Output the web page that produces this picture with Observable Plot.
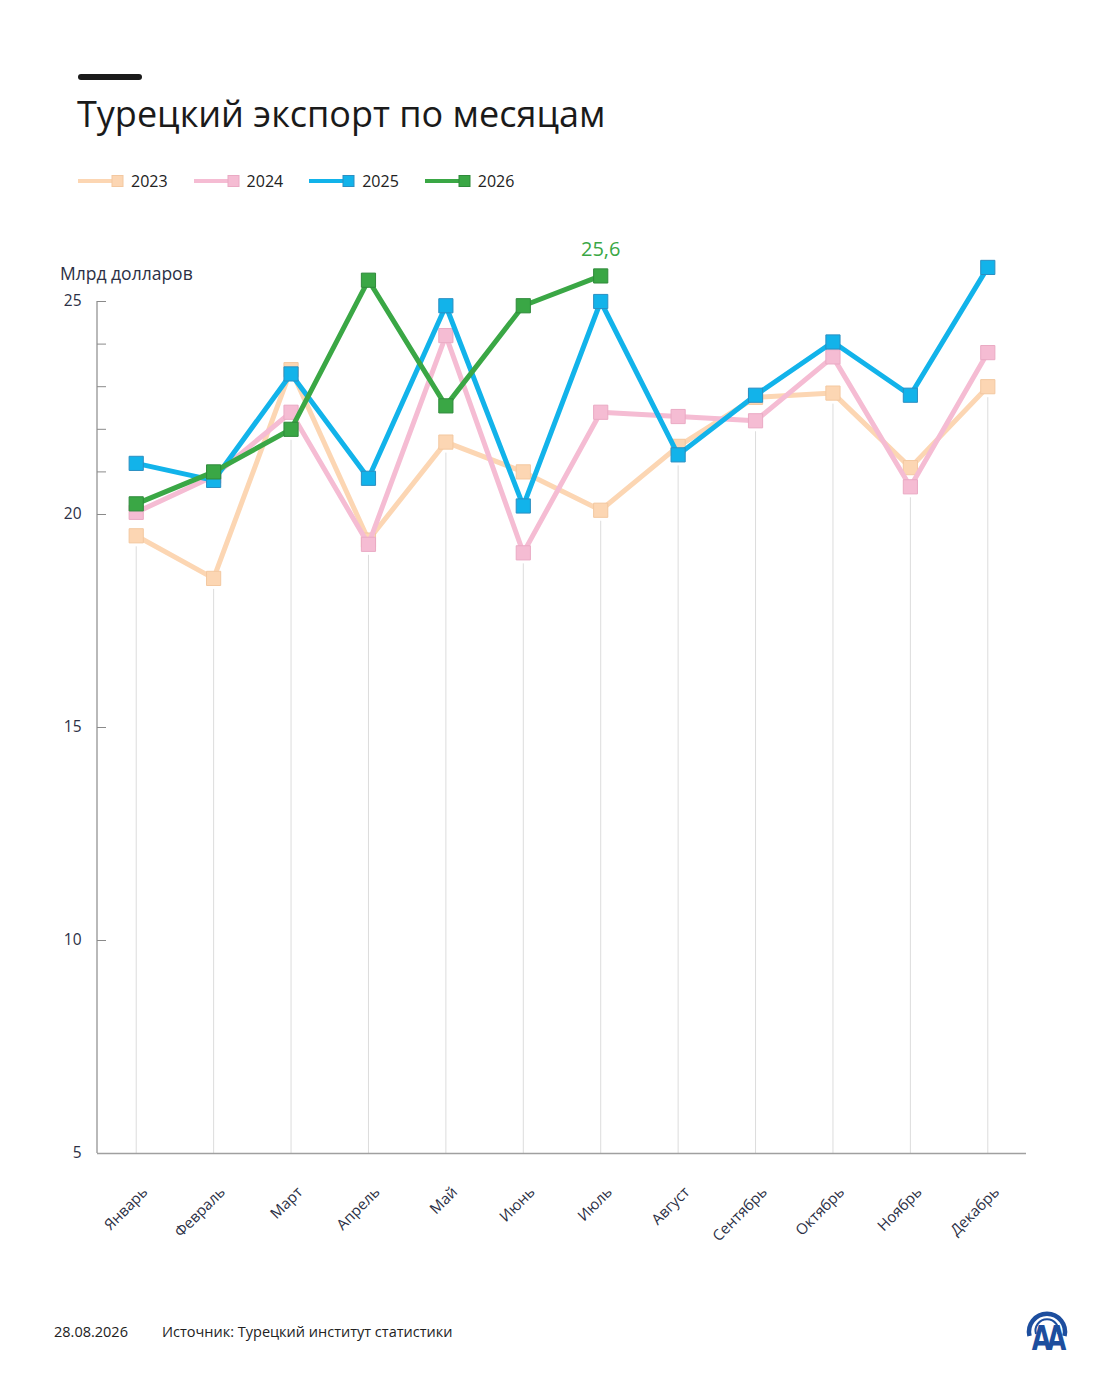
<!DOCTYPE html>
<html><head><meta charset="utf-8">
<script src="https://cdn.jsdelivr.net/npm/d3@7"></script>
<script src="https://cdn.jsdelivr.net/npm/@observablehq/plot@0.6"></script>
<style>
body{margin:0;background:#fff;font-family:"Open Sans","Noto Sans",sans-serif;}
#page{position:relative;width:1120px;height:1400px;overflow:hidden;background:#fff;}
#bar{position:absolute;left:78px;top:74px;width:64px;height:6px;border-radius:3px;background:#1a1a1a;}
#title{position:absolute;left:77px;top:89px;font-size:36px;color:#1a1a1a;white-space:nowrap;}
#legend{position:absolute;left:78px;top:170px;display:flex;gap:26px;font-size:16px;color:#222;}
.li{display:flex;align-items:center;gap:7px;}
#unit{position:absolute;left:60px;top:261px;font-size:17.5px;color:#2c3045;}
#chart{position:absolute;left:0;top:230px;}
#date{position:absolute;left:54px;top:1322px;font-size:14.5px;color:#222;}
#src{position:absolute;left:162px;top:1322px;font-size:14.5px;color:#222;}
#logo{position:absolute;left:1012px;top:1298px;overflow:visible;}
</style></head><body><div id="page">
<div id="bar"></div>
<div id="title">Турецкий экспорт по месяцам</div>
<div id="legend"></div>
<div id="unit">Млрд долларов</div>
<div id="chart"></div>
<div id="date">28.08.2026</div>
<div id="src">Источник: Турецкий институт статистики</div>
<svg id="logo" width="70" height="62" viewBox="0 0 70 62">
  <path d="M17.5 38 A18 18 0 1 1 52.5 38" fill="none" stroke="#1d4e9e" stroke-width="4.5"/>
  <path d="M24 36 A11.5 11.5 0 1 1 46 36" fill="none" stroke="#1d4e9e" stroke-width="2"/>
  <text transform="translate(35,52) scale(1,1.35)" text-anchor="middle" font-family="DejaVu Sans" font-weight="bold" font-size="25" fill="#1d4e9e" letter-spacing="-4">AA</text>
</svg>
</div>
<script>
const months = ["Январь","Февраль","Март","Апрель","Май","Июнь","Июль","Август","Сентябрь","Октябрь","Ноябрь","Декабрь"];
const years = ["2023","2024","2025","2026"];
const v2023 = [19.5, 18.5, 23.4, 19.4, 21.7, 21.0, 20.1, 21.6, 22.75, 22.85, 21.1, 23.0];
const v2024 = [20.05, 20.9, 22.4, 19.3, 24.2, 19.1, 22.4, 22.3, 22.2, 23.7, 20.65, 23.8];
const v2025 = [21.2, 20.8, 23.3, 20.85, 24.9, 20.2, 25.0, 21.4, 22.8, 24.05, 22.8, 25.8];
const v2026 = [20.25, 21.0, 22.0, 25.5, 22.55, 24.9, 25.6];
const yTicks = [5, 10, 15, 20, 25];
const yMinorTicks = [21, 22, 23, 24];
const lastLabel = "25,6";

const series = {"2023": v2023, "2024": v2024, "2025": v2025, "2026": v2026};
const lineColor = {"2023": "#fcd6b3", "2024": "#f5bcd3", "2025": "#12b3ea", "2026": "#3aa745"};
const markStroke = {"2023": "#f3c8a0", "2024": "#eaaac4", "2025": "#2b8fc2", "2026": "#2f8a3b"};

const rows = [];
for (const y of years) series[y].forEach((v, i) => rows.push({year: y, month: months[i], value: v}));
const minByMonth = months.map(m => ({month: m, min: d3.min(rows.filter(r => r.month === m), r => r.value)}));

// legend
const leg = document.getElementById("legend");
for (const y of years) {
  const el = document.createElement("div");
  el.className = "li";
  el.innerHTML = `<svg width="46" height="14"><line x1="0" y1="7" x2="36" y2="7" stroke="${lineColor[y]}" stroke-width="4" stroke-linecap="round"/><rect x="34" y="1.5" width="11" height="11" fill="${lineColor[y]}" stroke="${markStroke[y]}" stroke-width="1"/></svg><span>${y}</span>`;
  leg.appendChild(el);
}

const W = 1120, mL = 97, mR = 94, mT = 71, mB = 100;
const H = 1153 - 230 + mB;
const frameW = W - mL - mR;

// y-axis line along the left edge of the frame
function yAxisLine(index, scales, values, dims) {
  const g = d3.create("svg:g");
  g.append("line")
    .attr("x1", dims.marginLeft).attr("x2", dims.marginLeft)
    .attr("y1", dims.marginTop).attr("y2", dims.height - dims.marginBottom)
    .attr("stroke", "#8a8a8a").attr("stroke-width", 1.2);
  return g.node();
}

const marks = [
  Plot.ruleX(minByMonth, {x: "month", y1: "min", y2: 5, stroke: "#dcdcdc", strokeWidth: 1, insetTop: 11}),
  Plot.ruleY(yTicks.concat(yMinorTicks), {y: d => d, insetRight: frameW - 9, stroke: "#8a8a8a", strokeWidth: 1}),
  Plot.ruleY([5], {stroke: "#a0a0a0", strokeWidth: 1.6}),
  yAxisLine,
  Plot.axisY({ticks: yTicks, tickSize: 0, tickPadding: 16, fontSize: 15.5, color: "#2c3045", label: null}),
  Plot.axisX({tickSize: 0, tickPadding: 36, tickRotate: -45, fontSize: 15, color: "#2c3045", label: null, dx: 9})
];
for (const y of years) {
  const d = rows.filter(r => r.year === y);
  marks.push(Plot.line(d, {x: "month", y: "value", stroke: lineColor[y], strokeWidth: 5, strokeLinejoin: "miter"}));
  marks.push(Plot.dot(d, {x: "month", y: "value", symbol: "square", r: 8, fill: lineColor[y], stroke: markStroke[y], strokeWidth: 1}));
}
const last = rows.filter(r => r.year === "2026").slice(-1);
marks.push(Plot.text(last, {x: "month", y: "value", text: () => lastLabel, dy: -26, fill: "#3aa745", fontSize: 20}));

const chart = Plot.plot({
  width: W, height: H,
  marginLeft: mL, marginRight: mR, marginTop: mT, marginBottom: mB,
  style: {fontFamily: "'Open Sans', sans-serif", background: "transparent", overflow: "visible"},
  x: {type: "point", domain: months, padding: 0.5, round: false},
  y: {domain: [5, 25]},
  marks
});
document.getElementById("chart").appendChild(chart);
</script>
</body></html>
